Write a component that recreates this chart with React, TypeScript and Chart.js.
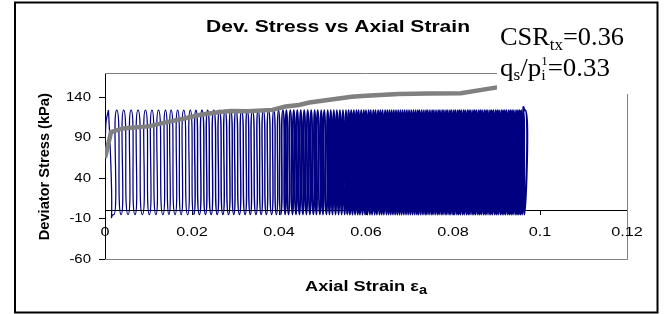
import React, { useEffect, useRef } from "react";
import { Chart, registerables } from "chart.js";

Chart.register(...registerables);

// ---------- data ----------
const xTickValues = [0, 0.02, 0.04, 0.06, 0.08, 0.1, 0.12];
const xTickLabels = ["0", "0.02", "0.04", "0.06", "0.08", "0.1", "0.12"];
const yTickValues = [-60, -10, 40, 90, 140];
const yTickLabels = ["-60", "-10", "40", "90", "140"];

// first loading branch
const initialStrain = [0, 0.0002, 0.0008];
const initialStress = [55, 108, 124];

const peakStress = 124;
const troughStress = -5;

// strain at the top of each load cycle
const peakStrain = [
  0.0008, 0.0027, 0.0043, 0.006, 0.0076, 0.0093, 0.0108, 0.0123, 0.0139, 0.0152, 0.0167, 0.0181, 0.0196, 0.0209,
  0.0223, 0.0236, 0.025, 0.0263, 0.0276, 0.0289, 0.0301, 0.0314, 0.0327, 0.0339, 0.0352, 0.0364, 0.0376, 0.0388, 0.0399,
  0.0409, 0.0417, 0.0426, 0.0434, 0.0442, 0.045, 0.0458, 0.0466, 0.0474, 0.0482, 0.0489, 0.0497, 0.0504, 0.0512, 0.0519,
  0.0526, 0.0533, 0.054, 0.0547, 0.0554, 0.056,
  0.0566, 0.0572, 0.0578, 0.0583, 0.0589, 0.0595, 0.06, 0.0606, 0.0611, 0.0617, 0.0622, 0.0628, 0.0633, 0.0638, 0.0644,
  0.0649, 0.0654, 0.0659, 0.0664, 0.0669, 0.0674, 0.0679, 0.0684, 0.0689, 0.0694, 0.0699, 0.0704, 0.0709, 0.0714, 0.0719,
  0.0723, 0.0728, 0.0733, 0.0738, 0.0742, 0.0747, 0.0752, 0.0756, 0.0761, 0.0766, 0.077, 0.0775, 0.0779, 0.0784, 0.0788,
  0.0793, 0.0797, 0.0802, 0.0806, 0.0811, 0.0815, 0.0819, 0.0824, 0.0828, 0.0833, 0.0837, 0.0841, 0.0846, 0.085, 0.0854,
  0.0859, 0.0863, 0.0867, 0.0872, 0.0876, 0.088, 0.0885, 0.0889, 0.0893, 0.0898, 0.0902, 0.0906, 0.0911, 0.0915, 0.0919,
  0.0923, 0.0928, 0.0932, 0.0936, 0.094, 0.0945, 0.0949, 0.0953, 0.0957, 0.0962, 0.0966,
];

// strain at the bottom of each cycle (after unloading)
const troughStrain = [
  0.002, 0.0037, 0.0053, 0.0069, 0.0086, 0.0102, 0.0117, 0.0133, 0.0147, 0.0161, 0.0175, 0.019, 0.0204, 0.0217,
  0.0231, 0.0244, 0.0258, 0.0271, 0.0284, 0.0296, 0.0309, 0.0322, 0.0334, 0.0347, 0.0359, 0.0371, 0.0383, 0.0394, 0.0404,
  0.0414, 0.0422, 0.0431, 0.0439, 0.0447, 0.0455, 0.0463, 0.0471, 0.0479, 0.0486, 0.0494, 0.0501, 0.0509, 0.0516, 0.0523,
  0.053, 0.0537, 0.0544, 0.0551, 0.0557, 0.0563,
  0.0569, 0.0575, 0.0581, 0.0586, 0.0592, 0.0598, 0.0603, 0.0609, 0.0614, 0.062, 0.0625, 0.0631, 0.0636, 0.0641, 0.0647,
  0.0652, 0.0657, 0.0662, 0.0667, 0.0672, 0.0677, 0.0682, 0.0687, 0.0692, 0.0697, 0.0702, 0.0707, 0.0712, 0.0717, 0.0721,
  0.0726, 0.0731, 0.0736, 0.074, 0.0745, 0.075, 0.0754, 0.0759, 0.0764, 0.0768, 0.0773, 0.0777, 0.0782, 0.0786, 0.0791,
  0.0795, 0.08, 0.0804, 0.0809, 0.0813, 0.0817, 0.0822, 0.0826, 0.0831, 0.0835, 0.0839, 0.0844, 0.0848, 0.0852, 0.0857,
  0.0861, 0.0865, 0.087, 0.0874, 0.0878, 0.0883, 0.0887, 0.0891, 0.0896, 0.09, 0.0904, 0.0909, 0.0913, 0.0917, 0.0921,
  0.0926, 0.093, 0.0934, 0.0938, 0.0943, 0.0947, 0.0951, 0.0955, 0.0959, 0.0964, 0.0948,
];

// grey envelope line
const envelopeStrain = [
  0, 0.0014, 0.004, 0.01, 0.014, 0.0185, 0.0217, 0.026, 0.029, 0.033, 0.0385, 0.0415, 0.0446, 0.047, 0.0567, 0.06,
  0.0675, 0.0745, 0.0818, 0.0905,
];
const envelopeStress = [
  65, 97, 101.5, 104, 109, 114, 118, 121.5, 123, 122.8, 124.4, 128.5, 130.5, 133.5, 140.7, 142, 144, 144.5, 145, 152.5,
];

// ---------- text helpers ----------
const SANS = '"Liberation Sans", Arial, sans-serif';
const SERIF = '"Liberation Serif", "Times New Roman", serif';
const NAVY = "#000080";

type Part = { t: string; f: string; dy?: number; stack?: boolean };

function layoutParts(ctx: CanvasRenderingContext2D, parts: Part[]) {
  let w = 0;
  let pending = 0;
  const offs: number[] = [];
  for (const p of parts) {
    ctx.font = p.f;
    const pw = ctx.measureText(p.t).width;
    offs.push(w);
    if (p.stack) {
      pending = pw;
    } else {
      w += Math.max(pw, pending);
      pending = 0;
    }
  }
  return { w, offs };
}

function drawParts(
  ctx: CanvasRenderingContext2D,
  parts: Part[],
  x: number,
  y: number,
  opts: { width?: number; sx?: number; align?: "left" | "center" | "right"; baseline?: CanvasTextBaseline; color?: string }
) {
  const { w, offs } = layoutParts(ctx, parts);
  const sx = opts.width ? opts.width / w : opts.sx ?? 1;
  const tw = w * sx;
  const align = opts.align ?? "left";
  const x0 = align === "left" ? x : align === "center" ? x - tw / 2 : x - tw;
  ctx.save();
  ctx.translate(x0, y);
  ctx.scale(sx, 1);
  ctx.fillStyle = opts.color ?? "#000";
  ctx.textAlign = "left";
  ctx.textBaseline = opts.baseline ?? "alphabetic";
  parts.forEach((p, i) => {
    ctx.font = p.f;
    ctx.fillText(p.t, offs[i], p.dy ?? 0);
  });
  ctx.restore();
}

const decorPlugin = {
  id: "decor",
  beforeDatasetsDraw(chart: any) {
    const { ctx, chartArea: a } = chart;
    ctx.save();
    ctx.strokeStyle = "#808080";
    ctx.lineWidth = 1;
    ctx.beginPath();
    ctx.moveTo(a.left, Math.round(a.top) + 0.5);
    ctx.lineTo(Math.round(a.right) + 0.5, Math.round(a.top) + 0.5);
    ctx.lineTo(Math.round(a.right) + 0.5, Math.round(a.bottom) + 0.5);
    ctx.lineTo(a.left, Math.round(a.bottom) + 0.5);
    ctx.stroke();
    ctx.restore();
  },
  afterDraw(chart: any) {
    const { ctx } = chart;
    const xs = chart.scales.x;
    const ys = chart.scales.y;

    // tick labels
    yTickValues.forEach((v, i) => {
      drawParts(ctx, [{ t: yTickLabels[i], f: `13px ${SANS}` }], 91, ys.getPixelForValue(v), {
        sx: 1.15,
        align: "right",
        baseline: "middle",
      });
    });
    xTickValues.forEach((v, i) => {
      drawParts(ctx, [{ t: xTickLabels[i], f: `13px ${SANS}` }], xs.getPixelForValue(v), 232, {
        sx: 1.25,
        align: "center",
        baseline: "middle",
      });
    });

    // title
    drawParts(ctx, [{ t: "Dev. Stress vs Axial Strain", f: `bold 16px ${SANS}` }], 206, 31.7, { width: 264 });

    // axis titles
    drawParts(
      ctx,
      [
        { t: "Axial Strain ", f: `bold 15px ${SANS}` },
        { t: "ε", f: `bold 15px ${SANS}` },
        { t: "a", f: `bold 12px ${SANS}`, dy: 2.5 },
      ],
      305,
      291,
      { width: 122 }
    );
    ctx.save();
    ctx.translate(44.5, 166.7);
    ctx.rotate(-Math.PI / 2);
    drawParts(ctx, [{ t: "Deviator Stress (kPa)", f: `bold 15px ${SANS}` }], 0, 0, {
      width: 147,
      align: "center",
      baseline: "middle",
    });
    ctx.restore();

    // annotation box
    ctx.save();
    ctx.fillStyle = "#fff";
    ctx.fillRect(497, 14, 150, 80);
    ctx.restore();
    drawParts(
      ctx,
      [
        { t: "CSR", f: `25px ${SERIF}` },
        { t: "tx", f: `16px ${SERIF}`, dy: 5 },
        { t: "=0.36", f: `25px ${SERIF}` },
      ],
      500,
      45,
      { width: 124 }
    );
    drawParts(
      ctx,
      [
        { t: "q", f: `25px ${SERIF}` },
        { t: "s", f: `16px ${SERIF}`, dy: 4 },
        { t: "/p", f: `25px ${SERIF}` },
        { t: "1", f: `12px ${SERIF}`, dy: -11, stack: true },
        { t: "i", f: `15px ${SERIF}`, dy: 4 },
        { t: "=0.33", f: `25px ${SERIF}` },
      ],
      500,
      75.5,
      { width: 110 }
    );

    // outer border
    ctx.save();
    ctx.strokeStyle = "#000";
    ctx.lineWidth = 2;
    ctx.strokeRect(15, 2.5, 642.5, 310);
    ctx.restore();
  },
};

export default function App() {
  const canvasRef = useRef<HTMLCanvasElement | null>(null);

  useEffect(() => {
    if (!canvasRef.current) return;

    const initialPoints = initialStrain.map((x, i) => ({ x, y: initialStress[i] }));
    const cyclePoints: { x: number; y: number }[] = [];
    peakStrain.forEach((p, i) => {
      cyclePoints.push({ x: p, y: peakStress });
      cyclePoints.push({ x: troughStrain[i], y: troughStress });
    });
    const envelopePoints = envelopeStrain.map((x, i) => ({ x, y: envelopeStress[i] }));

    const widthFor = (ctx: any) => {
      const x = ctx.p0.parsed.x;
      if (x >= 0.0555) return 2.1;
      if (x >= 0.04) return 1.7;
      if (x >= 0.02) return 1.45;
      return 1.25;
    };

    const chart = new Chart(canvasRef.current, {
      type: "line",
      data: {
        datasets: [
          {
            label: "envelope",
            data: envelopePoints,
            borderColor: "#808080",
            borderWidth: 4.5,
            pointRadius: 0,
            tension: 0,
            fill: false,
          },
          {
            label: "initial loading",
            data: initialPoints,
            borderColor: NAVY,
            borderWidth: 1.25,
            pointRadius: 0,
            tension: 0.4,
            fill: false,
          },
          {
            label: "cycles",
            data: cyclePoints,
            borderColor: NAVY,
            borderWidth: 1.25,
            pointRadius: 0,
            tension: 1.3,
            fill: false,
            segment: { borderWidth: widthFor },
          } as any,
        ],
      },
      options: {
        animation: false,
        responsive: true,
        maintainAspectRatio: false,
        layout: { padding: { left: 0, top: 73, right: 38, bottom: 55 } },
        plugins: {
          legend: { display: false },
          title: { display: false },
          tooltip: { enabled: false },
        },
        scales: {
          x: {
            type: "linear",
            min: 0,
            max: 0.12,
            position: { y: 0 } as any,
            afterBuildTicks: (s: any) => {
              s.ticks = xTickValues.map((v) => ({ value: v }));
            },
            afterFit: (s: any) => {
              s.height = 0;
            },
            ticks: { display: false },
            grid: { display: true, drawOnChartArea: false, drawTicks: true, tickLength: 4, color: "#000", lineWidth: 1 },
            border: { display: true, color: "#000", width: 1 },
          },
          y: {
            type: "linear",
            min: -60,
            max: 170,
            position: "left",
            afterBuildTicks: (s: any) => {
              s.ticks = yTickValues.map((v) => ({ value: v }));
            },
            afterFit: (s: any) => {
              s.width = 105;
            },
            ticks: { display: false },
            grid: { display: true, drawOnChartArea: false, drawTicks: true, tickLength: 6, color: "#000", lineWidth: 1 },
            border: { display: true, color: "#000", width: 1 },
          },
        },
      },
      plugins: [decorPlugin],
    });

    return () => chart.destroy();
  }, []);

  return (
    <div style={{ position: "absolute", left: 0, top: 0, width: 665, height: 314, background: "#fff" }}>
      <canvas ref={canvasRef} />
    </div>
  );
}
